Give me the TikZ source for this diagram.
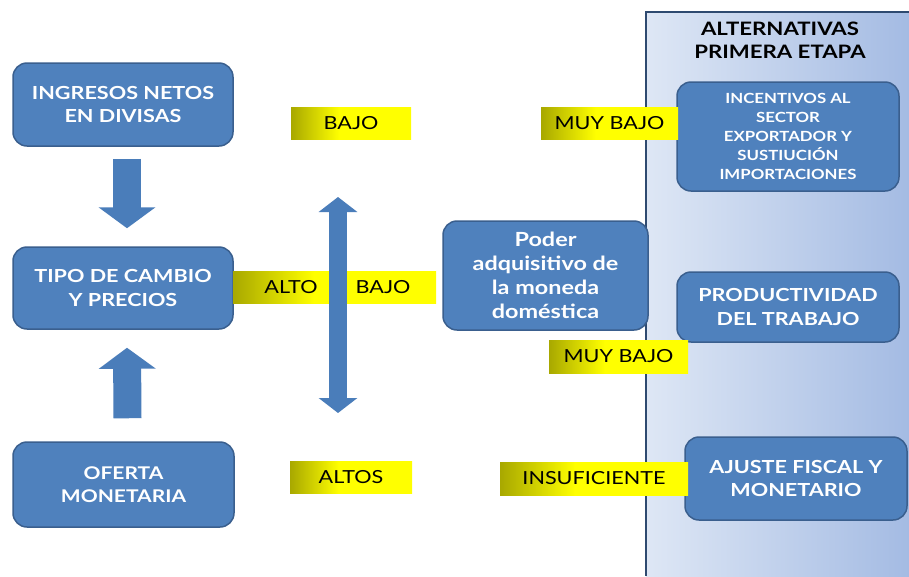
\documentclass[tikz,border=0pt]{standalone}
\usepackage{fontspec}
\setmainfont{Lato}[FakeStretch=1.2]
\usetikzlibrary{arrows.meta}
\definecolor{boxblue}{HTML}{4F81BD}
\definecolor{boxedge}{HTML}{3A5F8E}
\definecolor{arrblue}{HTML}{4A7DBA}
\definecolor{ylw}{HTML}{FFFF00}
\definecolor{olv}{HTML}{A8A800}
\definecolor{panL}{HTML}{DEE7F5}
\definecolor{panR}{HTML}{A4BBE3}
\definecolor{panedge}{HTML}{2E4A70}
\pgfdeclarehorizontalshading{ybar}{100bp}{color(0bp)=(olv); color(25bp)=(olv); color(45bp)=(ylw); color(100bp)=(ylw)}
\tikzset{
  bluebox/.style={draw=boxedge, line width=1.5pt, fill=boxblue, rounded corners=14pt,
    text=white, font=\bfseries\fontsize{18}{23.5}\selectfont, align=center, inner sep=0pt},
  ybox/.style={shading=ybar, draw=none, inner sep=0pt},
  ytext/.style={font=\fontsize{18}{22}\selectfont, text=black, inner sep=0pt},
  blockarrow/.style={draw=arrblue, line width=28pt, -{Triangle[width=56pt,length=21pt]}},
  dblarrow/.style={draw=arrblue, line width=18pt, {Triangle[width=38pt,length=15pt]}-{Triangle[width=38pt,length=15pt]}}
}
\begin{document}
\begin{tikzpicture}[x=1pt,y=-1pt]
\useasboundingbox (0,0) rectangle (909,576);
\fill[white] (0,0) rectangle (909,576);
% panel
\shade[left color=panL, right color=panR] (646,12) rectangle (909,576);
\draw[panedge, line width=2pt] (646,576) -- (646,12) -- (909,12);
\node[font=\bfseries\fontsize{18.5}{23}\selectfont, align=center] (title) at (780,40) {ALTERNATIVAS\\PRIMERA ETAPA};

% blue boxes
\node[bluebox, minimum width=220pt, minimum height=83pt] (ing) at (123,104.5) {INGRESOS NETOS\\EN DIVISAS};
\node[bluebox, minimum width=220pt, minimum height=82pt] (tipo) at (123,288) {TIPO DE CAMBIO\\Y PRECIOS};
\node[bluebox, minimum width=221pt, minimum height=85pt, font=\bfseries\fontsize{17.5}{23.5}\selectfont] (ofe) at (123.5,484.5) {OFERTA\\MONETARIA};
\node[bluebox, minimum width=205pt, minimum height=109pt, font=\bfseries\fontsize{19.5}{24}\selectfont] (poder) at (545.5,275.5) {Poder\\adquisitivo de\\la moneda\\doméstica};
\node[bluebox, minimum width=222pt, minimum height=109pt, font=\bfseries\fontsize{14}{19}\selectfont] (inc) at (788,136.5) {INCENTIVOS AL\\SECTOR\\EXPORTADOR Y\\SUSTIUCIÓN\\IMPORTACIONES};
\node[bluebox, minimum width=222pt, minimum height=70pt] (prod) at (788,307) {PRODUCTIVIDAD\\DEL TRABAJO};
\node[bluebox, minimum width=222pt, minimum height=83pt] (aju) at (796,478.5) {AJUSTE FISCAL Y\\MONETARIO};

% yellow labels
\node[ybox, minimum width=120pt, minimum height=32pt] (bajo1) at (351,123) {};
\node[ytext] at (bajo1) {BAJO};
\node[ybox, minimum width=137pt, minimum height=32pt] (muy1) at (609.5,123) {};
\node[ytext] at (muy1) {MUY BAJO};
\node[ybox, minimum width=203pt, minimum height=32pt] (bar) at (334.5,287) {};
\node[ybox, minimum width=139pt, minimum height=33pt] (muy2) at (618.5,356.5) {};
\node[ytext] at (muy2) {MUY BAJO};
\node[ybox, minimum width=122pt, minimum height=32pt] (altos) at (351,477) {};
\node[ytext] at (altos) {ALTOS};
\node[ybox, minimum width=188pt, minimum height=33pt] (insuf) at (594,478.5) {};
\node[ytext] at (insuf) {INSUFICIENTE};

% arrows
\draw[blockarrow] ([xshift=4pt,yshift=-12pt]ing.south) -- ([xshift=4pt,yshift=18pt]tipo.north);
\draw[blockarrow] ([xshift=4pt,yshift=23pt]ofe.north) -- ([xshift=4pt,yshift=-18pt]tipo.south);
\coordinate (dtop) at (338,197);
\coordinate (dbot) at (338,413);
\draw[dblarrow] (dtop) -- (dbot);
\node[ytext] (alto) at (291,287) {ALTO};
\node[ytext] (bajo2) at (383,287) {BAJO};
\end{tikzpicture}
\end{document}
